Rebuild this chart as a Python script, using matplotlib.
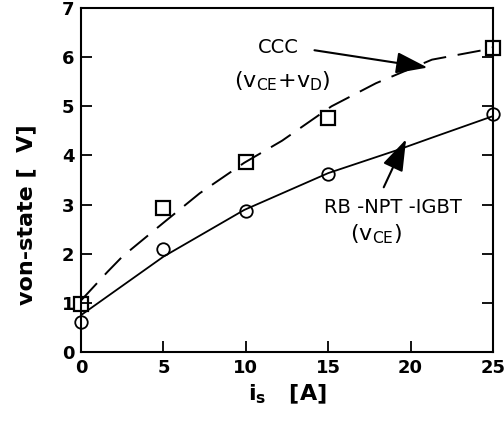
import numpy as np
import matplotlib
matplotlib.use("Agg")
import matplotlib.pyplot as plt

plt.rcParams['font.family'] = ['DejaVu Sans']
plt.rcParams['mathtext.default'] = 'regular'

# measured points (markers)
i_meas = [0, 5, 10, 15, 25]
v_ccc_meas = [0.97, 2.93, 3.86, 4.77, 6.18]
v_igbt_meas = [0.6, 2.1, 2.87, 3.62, 4.84]

# curves
i_ccc_curve = [0, 1.6, 2.5, 5.0, 7.2, 9.9, 12.2, 15.2, 17.9, 21.3, 24.5, 25]
v_ccc_curve = [1.05, 1.63, 1.94, 2.63, 3.23, 3.85, 4.3, 5.0, 5.47, 5.95, 6.15, 6.2]
i_igbt_curve = [0, 5.0, 9.9, 15.0, 19.2, 21.2, 25]
v_igbt_curve = [0.75, 1.94, 2.89, 3.64, 4.11, 4.35, 4.8]

x_ticks = [0, 5, 10, 15, 20, 25]
y_ticks = [0, 1, 2, 3, 4, 5, 6, 7]

fig = plt.figure(figsize=(5.04, 4.25), dpi=100)
ax = fig.add_axes([0.161, 0.172, 0.817, 0.809])

ax.plot(i_ccc_curve, v_ccc_curve, color='black', lw=1.4, dashes=(12, 6))
ax.plot(i_igbt_curve, v_igbt_curve, color='black', lw=1.3)
ax.plot(i_meas, v_ccc_meas, ls='none', marker='s', ms=10, mfc='none', mec='black', mew=1.6, clip_on=False)
ax.plot(i_meas, v_igbt_meas, ls='none', marker='o', ms=9, mfc='none', mec='black', mew=1.3, clip_on=False)

ax.set_xlim(0, 25)
ax.set_ylim(0, 7)
ax.set_xticks(x_ticks)
ax.set_yticks(y_ticks)
ax.tick_params(direction='in', length=8, width=1.3, labelsize=13, right=True, top=False, pad=5)
for lab in ax.get_xticklabels() + ax.get_yticklabels():
    lab.set_fontweight('bold')
for s in ax.spines.values():
    s.set_linewidth(1.5)

ax.set_xlabel('i$_{s}$   [A]', fontsize=16, fontweight='bold', labelpad=4)
ax.set_ylabel('von-state [  V]', fontsize=16, fontweight='bold')
ax.yaxis.set_label_coords(-0.11, 0.40)

# annotations
ax.annotate('', xy=(21.2, 5.78), xytext=(14.0, 6.15),
            arrowprops=dict(arrowstyle='-|>,head_length=0.65,head_width=0.22',
                            mutation_scale=30, lw=1.5, color='black'))
ax.text(12.0, 6.2, 'CCC', fontsize=14, ha='center', va='center')
ax.text(12.2, 5.52, '(v$_{CE}$+v$_{D}$)', fontsize=16, ha='center', va='center')

ax.annotate('', xy=(19.8, 4.38), xytext=(18.3, 3.3),
            arrowprops=dict(arrowstyle='-|>,head_length=0.65,head_width=0.22',
                            mutation_scale=30, lw=1.5, color='black'))
ax.text(18.9, 2.95, 'RB -NPT -IGBT', fontsize=14, ha='center', va='center')
ax.text(17.9, 2.4, '(v$_{CE}$)', fontsize=16, ha='center', va='center')

fig.savefig('out.png', dpi=100)
